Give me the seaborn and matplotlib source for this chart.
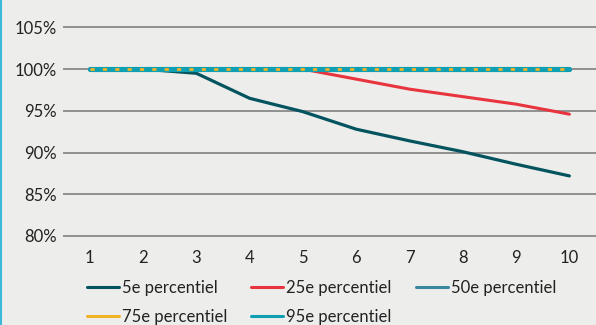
import matplotlib
matplotlib.use("Agg")
import matplotlib.pyplot as plt
from matplotlib.lines import Line2D
from matplotlib.ticker import FuncFormatter
import pandas as pd
import seaborn as sns

# Jaren 1..10 en de bijbehorende percentielen (in %)
jaren = [1, 2, 3, 4, 5, 6, 7, 8, 9, 10]
p5 = [100.0, 100.0, 99.5, 96.5, 94.9, 92.8, 91.4, 90.1, 88.6, 87.2]
p25 = [100.0, 100.0, 100.0, 100.0, 100.0, 98.8, 97.6, 96.7, 95.8, 94.6]
p50 = [100.0] * 10
p75 = [100.0] * 10
p95 = [100.0] * 10

labels = ["5e percentiel", "25e percentiel", "50e percentiel",
          "75e percentiel", "95e percentiel"]
kleuren = ["#03545f", "#e8343d", "#3a87a0", "#f0b323", "#0f9fb3"]
y_ticks = [80, 85, 90, 95, 100, 105]

df = pd.DataFrame({"jaar": jaren * 5,
                   "waarde": p5 + p25 + p50 + p75 + p95,
                   "reeks": sum([[l] * len(jaren) for l in labels], [])})

bg = "#ededec"
sns.set_theme(style="white")
plt.rcParams["font.family"] = ["Lato", "DejaVu Sans"]

fig = plt.figure(figsize=(5.96, 3.25), dpi=100, facecolor=bg)
ax = fig.add_axes([0.106, 0.2662, 0.894, 0.6636])
ax.set_facecolor(bg)

stijl = {
    labels[0]: dict(lw=2.3, zorder=3),
    labels[1]: dict(lw=2.2, zorder=3),
    labels[2]: dict(lw=3.6, zorder=4),
    labels[4]: dict(lw=3.7, zorder=5, solid_capstyle="round"),
    labels[3]: dict(lw=2.0, zorder=6, dashes=(1.5, 2.95)),
}
for naam, kw in stijl.items():
    sub = df[df["reeks"] == naam]
    sns.lineplot(data=sub, x="jaar", y="waarde", ax=ax,
                 color=kleuren[labels.index(naam)], legend=False, **kw)

ax.set_xlim(0.5, 10.5)
ax.set_ylim(79.7, 105.55)
ax.set_xticks(jaren)
ax.set_yticks(y_ticks)
ax.yaxis.set_major_formatter(FuncFormatter(lambda v, _: f"{v:.0f}%"))
ax.set_xlabel("")
ax.set_ylabel("")
ax.grid(axis="y", color="#777777", lw=1.1)
ax.grid(axis="x", visible=False)
for s in ax.spines.values():
    s.set_visible(False)
ax.tick_params(axis="both", length=0, labelsize=12, colors="#222222")
ax.tick_params(axis="y", pad=4.5)
ax.tick_params(axis="x", pad=8)

# legenda, rij voor rij
volgorde = [0, 3, 1, 4, 2]
handles = [Line2D([0], [0], color=kleuren[i], lw=2.2) for i in volgorde]
fig.legend(handles, [labels[i] for i in volgorde], ncol=3, frameon=False,
           loc="upper left", bbox_to_anchor=(0.146, 0.14), borderpad=0,
           borderaxespad=0, fontsize=12, handlelength=1.92, handletextpad=0.18,
           columnspacing=1.44, labelspacing=0.8, labelcolor="#222222")

# blauwe rand links
fig.add_artist(Line2D([0.0015, 0.0015], [0, 1], transform=fig.transFigure,
                      color="#3cb9d8", lw=1.5))

fig.savefig("out.png", dpi=100, facecolor=bg)
